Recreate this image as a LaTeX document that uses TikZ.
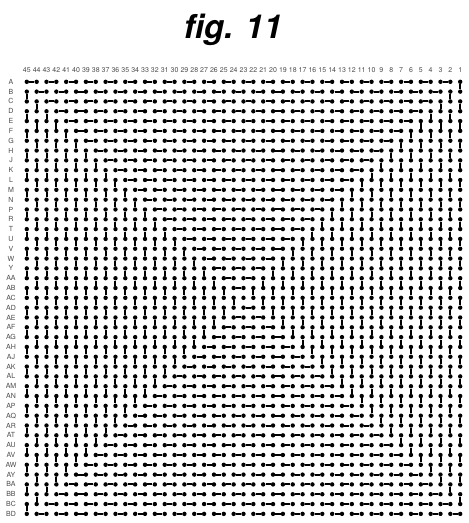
\documentclass[tikz,border=0pt]{standalone}
\usepackage{fontspec}
\setmainfont{TeX Gyre Heros}
\usepackage{tikz}
\usetikzlibrary{positioning}

\tikzset{
  dot/.style={circle, fill=black, inner sep=0pt, minimum size=4.4pt},
  bond/.style={line width=2pt},
  lbl/.style={font=\fontsize{7}{8}\selectfont, text=black!70, inner sep=0pt}
}

\begin{document}
\begin{tikzpicture}[x=1pt, y=-1pt]
  \useasboundingbox (0,0) rectangle (469,523);
  \node[font=\fontsize{33}{36}\selectfont\bfseries\itshape, anchor=base] (title) at (233,38) {fig. 11};

  \foreach \i in {0,...,44} {
    \pgfmathtruncatemacro\col{45-\i}
    \node[lbl] (c-\col) at (26.8+9.85*\i,70) {\col};
    \foreach \j in {0,...,44}
      \node[dot] (d-\i-\j) at (26.8+9.85*\i,81.8+9.82*\j) {};
  }
  \foreach \r [count=\j from 0] in {A,B,C,D,E,F,G,H,J,K,L,M,N,P,R,T,U,V,W,Y,AA,AB,AC,AD,AE,AF,AG,AH,AJ,AK,AL,AM,AN,AP,AQ,AR,AT,AU,AV,AW,AY,BA,BB,BC,BD}
    \node[lbl] (r-\r) at (11,81.8+9.82*\j) {\r};

  % rings, outside in
  \foreach \k in {0,...,21} {
    \pgfmathtruncatemacro\n{21-\k}
    \pgfmathtruncatemacro\e{44-\k}
    \foreach \m in {0,...,\n} {
      \pgfmathtruncatemacro\a{\k+2*\m}
      \pgfmathtruncatemacro\b{\a+1}
      \pgfmathtruncatemacro\c{\a+2}
      \draw[bond] (d-\a-\k) -- (d-\b-\k)
        (d-\e-\a) -- (d-\e-\b)
        (d-\b-\e) -- (d-\c-\e)
        (d-\k-\b) -- (d-\k-\c);
    }
  }
\end{tikzpicture}
\end{document}
